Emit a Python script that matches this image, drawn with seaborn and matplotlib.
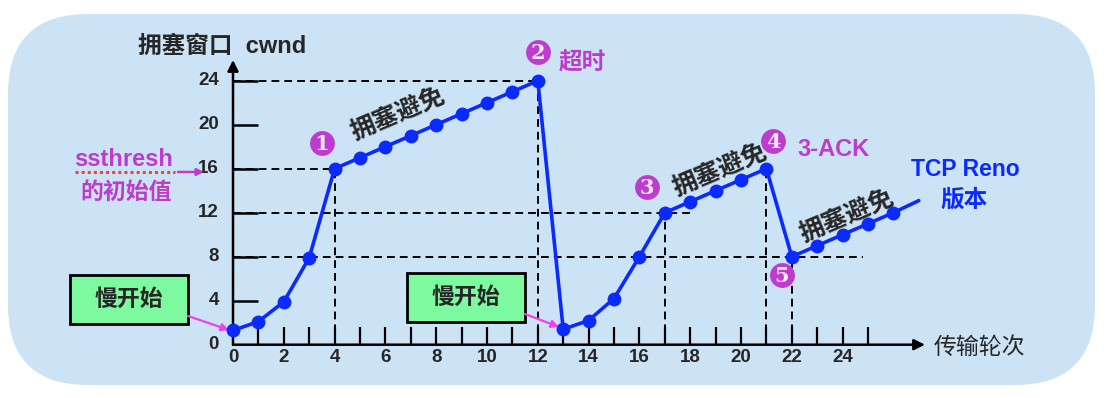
import matplotlib.pyplot as plt
import matplotlib.patches as mpatches
import pandas as pd
import seaborn as sns

# cwnd per transmission round (TCP Reno)
rounds = list(range(28))
cwnd = [1.3, 2.1, 3.9, 7.9, 16, 17, 18, 19, 20, 21, 22, 23, 24,
        1.4, 2.2, 4.2, 8, 12, 13, 14, 15, 16,
        8, 9, 10, 11, 12, 13.1]
marker_rounds = list(range(27))

x_tick_labels = [0, 2, 4, 6, 8, 10, 12, 14, 16, 18, 20, 22, 24]
x_minor = list(range(1, 26))
y_tick_labels = [0, 4, 8, 12, 16, 20, 24]

# dashed guides: (y, x_end) and (x, y_top)
guide_h = [(24, 12), (16, 4), (12, 18.2), (8, 24.8)]
guide_v = [(4, 16), (12, 24), (17, 12), (21, 16), (22, 8)]

BLUE = "#0a2aff"
MAGENTA = "#bd3ccb"
BG = "#cce3f6"
GREEN = "#7dfa9f"

# pixel -> data mapping for the full-figure axes
X0, SX, Y0, SY = 233, 25.4, 344.7, 11.0


def X(px):
    return (px - X0) / SX


def Y(py):
    return (Y0 - py) / SY


sns.set_style("white")
plt.rcParams["font.family"] = ["Liberation Sans", "Noto Sans CJK SC", "DejaVu Sans"]

fig = plt.figure(figsize=(11.08, 3.98), dpi=100)
fig.patch.set_facecolor("white")
ax = fig.add_axes([0, 0, 1, 1])
ax.set_facecolor("none")
ax.set_xlim(X(0), X(1108))
ax.set_ylim(Y(398), Y(0))
ax.axis("off")

# rounded light-blue background
bg = mpatches.FancyBboxPatch((8, 398 - 385), 1087, 371,
                             boxstyle="round,pad=0,rounding_size=80",
                             transform=None, facecolor=BG, edgecolor="none", zorder=0)
ax.add_patch(bg)

# dashed guides
for yv, xe in guide_h:
    ax.hlines(yv, 0, xe, colors="black", linestyles=(0, (4, 2.6)), lw=1.4, zorder=2)
for xv, yt in guide_v:
    ax.vlines(xv, 0, yt, colors="black", linestyles=(0, (4, 2.6)), lw=1.4, zorder=2)

# axes with arrows
ax.annotate("", xy=(X(925), 0), xytext=(0, 0),
            arrowprops=dict(arrowstyle="-|>", color="black", lw=1.8, mutation_scale=16,
                            shrinkA=0, shrinkB=0), zorder=3)
ax.annotate("", xy=(0, Y(60)), xytext=(0, 0),
            arrowprops=dict(arrowstyle="-|>", color="black", lw=1.8, mutation_scale=16,
                            shrinkA=0, shrinkB=0), zorder=3)
ax.vlines(x_minor, 0, 1.6, colors="black", lw=1.6, zorder=3)
ax.hlines(y_tick_labels[1:], 0, 1.0, colors="black", lw=1.8, zorder=3)

for v in x_tick_labels:
    ax.text(v, Y(358), str(v), ha="center", va="center", fontsize=13.5,
            fontweight="bold", zorder=4)
for v in y_tick_labels:
    ax.text(X(219), v, str(v), ha="right", va="center", fontsize=13.5,
            fontweight="bold", zorder=4)

# cwnd curve
df = pd.DataFrame({"round": rounds, "cwnd": cwnd})
sns.lineplot(data=df, x="round", y="cwnd", ax=ax, color=BLUE, lw=2.6, zorder=5)
sns.scatterplot(data=df[df["round"].isin(marker_rounds)], x="round", y="cwnd", ax=ax,
                color=BLUE, s=100, edgecolor=BLUE, linewidth=0, zorder=6)
ax.set_xlabel("")
ax.set_ylabel("")

# axis titles
ax.text(X(138), Y(46), "拥塞窗口  cwnd", ha="left", va="center", fontsize=17,
        fontweight="bold", zorder=4)
ax.text(X(934), Y(347), "传输轮次", ha="left", va="center", fontsize=16.5,
        fontweight="medium", zorder=4)

# ssthresh note
ax.text(X(124), Y(160), "ssthresh", ha="center", va="center", fontsize=17,
        fontweight="bold", color=MAGENTA, zorder=4)
ax.hlines(Y(172), X(75), X(175), colors="#e8483c", linestyles=(0, (1, 1)), lw=2.2, zorder=4)
ax.text(X(126), Y(192), "的初始值", ha="center", va="center", fontsize=16.5,
        fontweight="bold", color=MAGENTA, zorder=4)
ax.annotate("", xy=(X(204), Y(172)), xytext=(X(178), Y(172)),
            arrowprops=dict(arrowstyle="-|>", color=MAGENTA, lw=1.8, mutation_scale=10,
                            shrinkA=0, shrinkB=0), zorder=4)

# circled step numbers
circles = [("1", 322, 143), ("2", 538, 52), ("3", 647, 187), ("4", 773, 141), ("5", 782, 275)]
for label, cx, cy in circles:
    ax.scatter(X(cx), Y(cy), s=320, color=MAGENTA, linewidth=0, zorder=7)
    ax.text(X(cx), Y(cy) - 0.05, label, ha="center", va="center", fontsize=15,
            fontweight="bold", family="DejaVu Serif", color="#f6e6f8", zorder=8)

ax.text(X(559), Y(62), "超时", ha="left", va="center", fontsize=17,
        fontweight="bold", color=MAGENTA, zorder=4)
ax.text(X(797), Y(150), "3-ACK", ha="left", va="center", fontsize=17,
        fontweight="bold", color=MAGENTA, zorder=4)
ax.text(X(965), Y(170), "TCP Reno", ha="center", va="center", fontsize=16.5,
        fontweight="bold", color=BLUE, zorder=4)
ax.text(X(964), Y(200), "版本", ha="center", va="center", fontsize=17,
        fontweight="bold", color=BLUE, zorder=4)

# congestion avoidance labels
for cx, cy in [(398, 114), (720, 170), (847, 216)]:
    ax.text(X(cx), Y(cy), "拥塞避免", ha="center", va="center", rotation=23,
            rotation_mode="anchor", fontsize=18, fontweight="bold", zorder=4)

# slow start boxes
for (bx0, by0, bx1, by1), (ax0, ay0, ax1, ay1) in [
        ((70, 275, 188, 324), (188, 316, 229, 330)),
        ((407, 273, 525, 322), (525, 314, 559, 327))]:
    rect = mpatches.Rectangle((X(bx0), Y(by1)), X(bx1) - X(bx0), Y(by0) - Y(by1),
                              facecolor=GREEN, edgecolor="black", lw=2, zorder=4)
    ax.add_patch(rect)
    ax.text((X(bx0) + X(bx1)) / 2, (Y(by0) + Y(by1)) / 2, "慢开始", ha="center",
            va="center", fontsize=16.5, fontweight="bold", zorder=5)
    ax.annotate("", xy=(X(ax1), Y(ay1)), xytext=(X(ax0), Y(ay0)),
                arrowprops=dict(arrowstyle="-|>", color="#f040f0", lw=1.6,
                                mutation_scale=11, shrinkA=0, shrinkB=0), zorder=5)

fig.savefig("out.png", dpi=100, facecolor="white")
